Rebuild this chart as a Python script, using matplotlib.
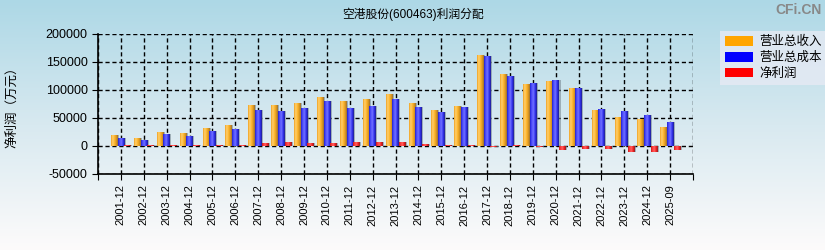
import numpy as np
import matplotlib.pyplot as plt
from matplotlib.colors import LinearSegmentedColormap
from matplotlib.patches import Patch

plt.rcParams['font.family'] = ['Liberation Sans', 'Noto Sans CJK SC', 'DejaVu Sans']
plt.rcParams['axes.unicode_minus'] = False

periods = ["2001-12", "2002-12", "2003-12", "2004-12", "2005-12", "2006-12", "2007-12",
           "2008-12", "2009-12", "2010-12", "2011-12", "2012-12", "2013-12", "2014-12",
           "2015-12", "2016-12", "2017-12", "2018-12", "2019-12", "2020-12", "2021-12",
           "2022-12", "2023-12", "2024-12", "2025-09"]
revenue = [19900, 14500, 25300, 23500, 32500, 38000, 74000, 74000, 75900, 86700, 79500,
           83100, 92100, 75900, 65000, 72200, 162500, 128200, 110200, 115600, 102900,
           65000, 52400, 48800, 34300]
cost = [15000, 10800, 21700, 18000, 27000, 30700, 65000, 63200, 68600, 79500, 68600,
        72200, 83100, 70400, 61400, 70400, 160700, 124600, 112000, 117400, 103000,
        66800, 63200, 56000, 43300]
profit = [2500, 2500, 2500, 2500, 2500, 2500, 4500, 6500, 4500, 4500, 6500,
          6500, 6500, 3000, 2500, 1000, -1500, 1000, -1500, -6500, -4800,
          -4500, -11000, -10000, -8000]
series_names = ["营业总收入", "营业总成本", "净利润"]

cmaps = [
    LinearSegmentedColormap.from_list("o", ["#f0a020", "#ffd070", "#ffb830", "#e09a20", "#9a7030"]),
    LinearSegmentedColormap.from_list("b", ["#2020d0", "#5050ff", "#7070ff", "#3030f0", "#202090"]),
    LinearSegmentedColormap.from_list("r", ["#d01818", "#ff4040", "#ff6060", "#f02020", "#902020"]),
]
solid = ["#ffa500", "#0000ff", "#ff0000"]

fig = plt.figure(figsize=(8.25, 2.5), dpi=100)

# background gradient
bg = fig.add_axes([0, 0, 1, 1], zorder=-10)
grad = np.linspace(0, 1, 256).reshape(-1, 1)
bg_cmap = LinearSegmentedColormap.from_list("bg", ["#add8e6", "#d8e9f0", "#fdfbfb"])
bg.imshow(grad, aspect="auto", cmap=bg_cmap, extent=[0, 1, 0, 1])
bg.axis("off")

ax = fig.add_axes([0.1188, 0.304, 0.7212, 0.56])
ax.patch.set_alpha(0)

x = np.arange(len(periods))
w = 0.28
hgrad = np.linspace(0, 1, 64).reshape(1, -1)
for k, vals in enumerate([revenue, cost, profit]):
    pos = x + (k - 1) * 0.29
    # shadow
    ax.bar(pos + 0.07, vals, w, color="#7a8a94", alpha=0.6, zorder=2)
    bars = ax.bar(pos, vals, w, color=solid[k], zorder=3)
    for b in bars:
        bx, by = b.get_x(), b.get_y()
        bw, bh = b.get_width(), b.get_height()
        im = ax.imshow(hgrad, aspect="auto", cmap=cmaps[k],
                       extent=[bx, bx + bw, min(by, by + bh), max(by, by + bh)],
                       zorder=4)
        im.set_clip_path(b)

ax.set_xlim(-1, 25)
ax.set_ylim(-50000, 200000)
ax.set_xticks(np.arange(-1, 26))
ax.set_xticklabels([""] + periods + [""], rotation=90, fontsize=8)
ax.set_yticks(np.arange(-50000, 200001, 50000))
ax.tick_params(axis="y", labelsize=9, length=4)
ax.tick_params(axis="x", length=4)
ax.grid(True, color="black", linestyle=(0, (3, 2)), linewidth=1, zorder=1)
ax.set_axisbelow(True)
ax.spines["top"].set_visible(False)
ax.spines["right"].set_visible(False)
ax.spines["left"].set_linewidth(1.2)
ax.spines["bottom"].set_linewidth(1.2)

ax.set_ylabel("净利润（万元）", fontsize=9, labelpad=20)
fig.text(0.5, 0.944, "空港股份(600463)利润分配", ha="center", va="center", fontsize=8.5)
fig.text(0.996, 0.96, "CFi.CN", ha="right", va="center", fontsize=10, color="#888888",
         fontweight="bold")

handles = [Patch(facecolor=c, edgecolor="none") for c in solid]
leg = fig.legend(handles, series_names, loc="upper left", bbox_to_anchor=(0.873, 0.876),
                 fontsize=9, frameon=True, fancybox=False, borderpad=0.4,
                 handlelength=2.2, handleheight=0.8, handletextpad=0.5, labelspacing=0.3,
                 borderaxespad=0)
leg.get_frame().set_facecolor("#e6eaf4")
leg.get_frame().set_edgecolor("none")

fig.savefig("out.png", dpi=100)
